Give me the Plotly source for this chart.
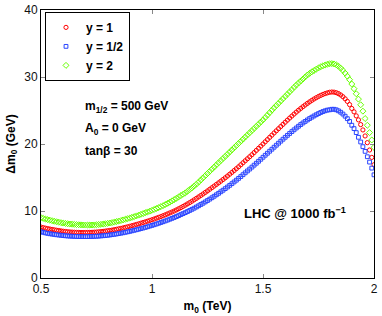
import numpy as np
import plotly.graph_objects as go

m0 = [round(0.50 + 0.01 * i, 2) for i in range(151)]

dm_y2 = [
    9.00, 8.90, 8.80, 8.71, 8.63, 8.55, 8.47, 8.40, 8.33, 8.26,
    8.20, 8.15, 8.10, 8.06, 8.03, 8.00, 7.97, 7.95, 7.93, 7.91,
    7.90, 7.90, 7.90, 7.91, 7.92, 7.95, 7.98, 8.01, 8.05, 8.10,
    8.15, 8.21, 8.27, 8.34, 8.42, 8.50, 8.58, 8.67, 8.76, 8.85,
    8.95, 9.05, 9.16, 9.27, 9.38, 9.50, 9.62, 9.74, 9.86, 9.98,
    10.10, 10.23, 10.37, 10.51, 10.65, 10.80, 10.97, 11.14, 11.32, 11.51,
    11.70, 11.90, 12.10, 12.30, 12.50, 12.70, 12.95, 13.20, 13.45, 13.72,
    14.00, 14.31, 14.63, 14.95, 15.27, 15.60, 15.92, 16.24, 16.56, 16.88,
    17.20, 17.52, 17.84, 18.16, 18.48, 18.80, 19.12, 19.44, 19.76, 20.08,
    20.40, 20.72, 21.04, 21.36, 21.68, 22.00, 22.32, 22.64, 22.96, 23.28,
    23.60, 23.96, 24.32, 24.68, 25.04, 25.40, 25.74, 26.08, 26.42, 26.76,
    27.10, 27.44, 27.78, 28.12, 28.46, 28.80, 29.10, 29.40, 29.70, 30.00,
    30.30, 30.54, 30.77, 30.98, 31.17, 31.35, 31.52, 31.67, 31.79, 31.90,
    31.98, 32.00, 31.95, 31.82, 31.60, 31.32, 30.98, 30.58, 30.12, 29.60,
    28.95, 28.25, 27.50, 26.70, 25.85, 24.90, 23.80, 22.80, 21.70, 20.60,
    19.50,
]

dm_y1 = [
    7.60, 7.52, 7.44, 7.37, 7.31, 7.25, 7.19, 7.13, 7.08, 7.03,
    6.98, 6.94, 6.90, 6.87, 6.85, 6.83, 6.81, 6.80, 6.79, 6.79,
    6.79, 6.80, 6.81, 6.82, 6.84, 6.86, 6.89, 6.92, 6.96, 7.00,
    7.05, 7.10, 7.15, 7.21, 7.27, 7.34, 7.41, 7.48, 7.56, 7.64,
    7.72, 7.81, 7.90, 7.99, 8.08, 8.18, 8.28, 8.38, 8.48, 8.59,
    8.70, 8.81, 8.93, 9.05, 9.17, 9.30, 9.43, 9.57, 9.71, 9.85,
    10.00, 10.16, 10.33, 10.50, 10.68, 10.87, 11.06, 11.26, 11.46, 11.67,
    11.88, 12.10, 12.32, 12.54, 12.77, 13.00, 13.24, 13.48, 13.72, 13.96,
    14.20, 14.45, 14.70, 14.96, 15.22, 15.49, 15.76, 16.04, 16.32, 16.60,
    16.90, 17.20, 17.50, 17.80, 18.10, 18.40, 18.72, 19.04, 19.36, 19.68,
    20.00, 20.33, 20.66, 20.99, 21.32, 21.65, 21.97, 22.29, 22.61, 22.93,
    23.25, 23.56, 23.87, 24.17, 24.47, 24.76, 25.04, 25.31, 25.57, 25.82,
    26.06, 26.29, 26.51, 26.72, 26.91, 27.09, 27.25, 27.40, 27.53, 27.63,
    27.72, 27.76, 27.74, 27.66, 27.52, 27.32, 27.06, 26.74, 26.36, 25.88,
    25.30, 24.80, 24.20, 23.60, 22.90, 22.10, 21.20, 20.20, 19.10, 18.00,
    16.90,
]

dm_yhalf = [
    6.90, 6.81, 6.73, 6.66, 6.60, 6.55, 6.50, 6.45, 6.41, 6.37,
    6.33, 6.30, 6.27, 6.25, 6.23, 6.21, 6.20, 6.19, 6.18, 6.18,
    6.18, 6.18, 6.19, 6.20, 6.21, 6.23, 6.25, 6.28, 6.31, 6.34,
    6.38, 6.42, 6.47, 6.52, 6.57, 6.63, 6.69, 6.75, 6.82, 6.89,
    6.96, 7.04, 7.12, 7.20, 7.28, 7.37, 7.46, 7.55, 7.65, 7.75,
    7.85, 7.95, 8.06, 8.17, 8.28, 8.40, 8.52, 8.64, 8.77, 8.90,
    9.03, 9.17, 9.31, 9.46, 9.61, 9.76, 9.92, 10.08, 10.25, 10.42,
    10.60, 10.78, 10.97, 11.16, 11.36, 11.56, 11.77, 11.98, 12.20, 12.42,
    12.64, 12.87, 13.10, 13.34, 13.58, 13.83, 14.08, 14.34, 14.60, 14.87,
    15.14, 15.42, 15.70, 15.98, 16.26, 16.55, 16.84, 17.13, 17.42, 17.72,
    18.02, 18.32, 18.62, 18.92, 19.22, 19.52, 19.82, 20.12, 20.42, 20.71,
    21.00, 21.29, 21.57, 21.85, 22.12, 22.39, 22.65, 22.90, 23.14, 23.37,
    23.59, 23.80, 24.00, 24.19, 24.37, 24.54, 24.70, 24.84, 24.96, 25.06,
    25.10, 25.18, 25.18, 25.10, 24.95, 24.74, 24.47, 24.15, 23.78, 23.37,
    22.80, 22.30, 21.70, 21.00, 20.30, 19.60, 18.90, 18.10, 17.30, 16.40,
    15.40,
]

series = [
    ("y = 1", dm_y1, "circle-open", "#ff0000", 4.2),
    ("y = 1/2", dm_yhalf, "square-open", "#2a45ff", 3.8),
    ("y = 2", dm_y2, "diamond-open", "#66ff00", 4.6),
]

x_ticks = [0.5, 1, 1.5, 2]
x_tick_labels = ["0.5", "1", "1.5", "2"]
y_ticks = [0, 10, 20, 30, 40]

FONT = "Liberation Sans, Arial, Helvetica, sans-serif"

fig = go.Figure()
for name, vals, sym, col, sz in series:
    fig.add_trace(go.Scatter(
        x=m0, y=vals, mode="markers", name="<b>" + name + "</b>",
        marker=dict(symbol=sym, color=col, size=sz, line=dict(width=1, color=col)),
    ))

axis_common = dict(
    showline=True, linecolor="black", linewidth=1, mirror="ticks",
    ticks="inside", ticklen=4, tickcolor="#888888", showgrid=False,
    zeroline=False, automargin=False,
    tickfont=dict(family=FONT, size=12, color="#111111"),
)

fig.update_layout(
    width=382, height=316,
    margin=dict(l=41, r=8, t=10, b=38),
    plot_bgcolor="white", paper_bgcolor="white",
    font=dict(family=FONT, color="black"),
    xaxis=dict(range=[0.5, 2], tickvals=x_ticks, ticktext=x_tick_labels,
               title=dict(text="<b>m<sub>0</sub> (TeV)</b>", font=dict(size=12), standoff=6),
               **axis_common),
    yaxis=dict(range=[0, 40], tickvals=y_ticks,
               title=dict(text="<b>Δm<sub>0</sub> (GeV)</b>", font=dict(size=12), standoff=6),
               **axis_common),
    legend=dict(x=0.012, y=0.993, xanchor="left", yanchor="top",
                bordercolor="black", borderwidth=1, bgcolor="white",
                font=dict(family=FONT, size=12), itemwidth=30,
                tracegroupgap=0),
    showlegend=True,
)

annots = [
    (0.69, 25.5, "<b>m<sub>1/2</sub> = 500 GeV</b>", 12),
    (0.69, 22.3, "<b>A<sub>0</sub> = 0 GeV</b>", 12),
    (0.69, 19.0, "<b>tanβ = 30</b>", 12),
    (1.405, 9.7, "<b>LHC @ 1000 fb<sup>−1</sup></b>", 13),
]
for x, y, t, s in annots:
    fig.add_annotation(x=x, y=y, xref="x", yref="y", text=t, showarrow=False,
                       xanchor="left", yanchor="middle",
                       font=dict(family=FONT, size=s, color="black"))

fig.write_html("out.html", config={"displayModeBar": False},
               post_script="document.body.style.margin='0';document.body.style.padding='0';")
